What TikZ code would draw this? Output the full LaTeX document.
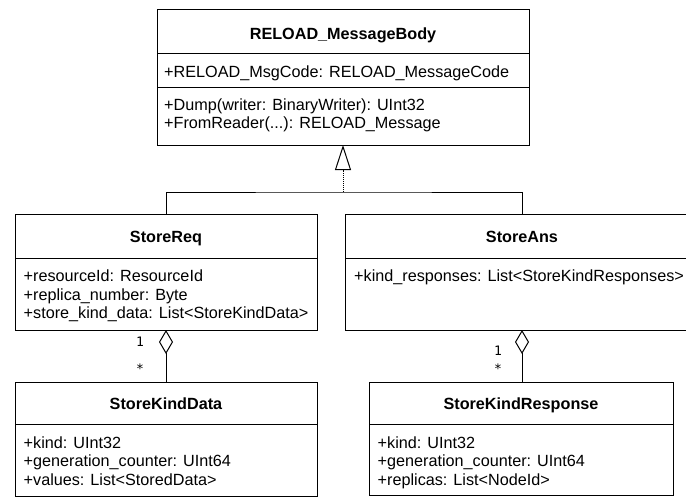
\documentclass[tikz,border=0pt]{standalone}
\usepackage{fontspec}
\setmainfont{Liberation Sans}
\newfontfamily\multfont{DejaVu Sans Mono}
\usetikzlibrary{arrows.meta}
\begin{document}
\begin{tikzpicture}[x=1pt,y=-1pt,
  umlbox/.style={draw=black, line width=1pt, inner sep=0pt, outer sep=0pt, anchor=north west, fill=white},
  sepline/.style={draw=black, line width=1pt},
  classname/.style={inner sep=0pt, anchor=base, font=\fontsize{16.2}{18.3}\selectfont\bfseries},
  member/.style={inner sep=0pt, anchor=base west, font=\fontsize{16.2}{18.3}\selectfont},
  mult/.style={inner sep=0pt, anchor=center, font=\fontsize{13}{14}\selectfont\multfont},
  link/.style={draw=black, line width=1pt}
]
\useasboundingbox (0,0) rectangle (686,496);
\clip (0,0) rectangle (686,496);

% RELOAD_MessageBody
\node[umlbox, minimum width=372pt, minimum height=136pt] (body) at (157,9) {};
\draw[sepline] (157,53) -- (529,53);
\draw[sepline] (157,87) -- (529,87);
\node[classname] (bodyname) at (343,39.3) {RELOAD\_MessageBody};
\node[member] (bodya1) at (164,77.7) {+RELOAD\_MsgCode: RELOAD\_MessageCode};
\node[member] (bodym1) at (164,110) {+Dump(writer: BinaryWriter): UInt32};
\node[member] (bodym2) at (164,128.3) {+FromReader(...): RELOAD\_Message};

% StoreReq
\node[umlbox, minimum width=302pt, minimum height=116pt] (req) at (15,214) {};
\draw[sepline] (15,258) -- (317,258);
\node[classname] (reqname) at (166,242.5) {StoreReq};
\node[member] (reqa1) at (23.5,281.7) {+resourceId: ResourceId};
\node[member] (reqa2) at (23.5,300) {+replica\_number: Byte};
\node[member] (reqa3) at (23.5,318.3) {+store\_kind\_data: List<StoreKindData>};

% StoreAns
\node[umlbox, minimum width=354pt, minimum height=116pt] (ans) at (345,214) {};
\draw[sepline] (345,258) -- (699,258);
\node[classname] (ansname) at (522,242.5) {StoreAns};
\node[member] (ansa1) at (354,281.7) {+kind\_responses: List<StoreKindResponses>};

% StoreKindData
\node[umlbox, minimum width=302pt, minimum height=114pt] (skd) at (15,382) {};
\draw[sepline] (15,424) -- (317,424);
\node[classname] (skdname) at (166,409.5) {StoreKindData};
\node[member] (skda1) at (23.5,448.3) {+kind: UInt32};
\node[member] (skda2) at (23.5,466.7) {+generation\_counter: UInt64};
\node[member] (skda3) at (23.5,485) {+values: List<StoredData>};

% StoreKindResponse
\node[umlbox, minimum width=304pt, minimum height=113.5pt] (skr) at (369,382) {};
\draw[sepline] (369,424) -- (673,424);
\node[classname] (skrname) at (521,409.5) {StoreKindResponse};
\node[member] (skra1) at (377.5,448.3) {+kind: UInt32};
\node[member] (skra2) at (377.5,466.7) {+generation\_counter: UInt64};
\node[member] (skra3) at (377.5,485) {+replicas: List<NodeId>};

% generalization: both messages derive from RELOAD_MessageBody
\coordinate (join) at (343,192);
\draw[link] (req.north) |- (join) -| (ans.north);
\draw[link, dash pattern=on 1pt off 1pt,
  -{Triangle[open, length=25pt, width=16pt, line width=1pt, sep=0pt]}]
  (join) -- (join |- body.south);

% aggregations
\draw[link, -{Diamond[open, length=24pt, width=14pt, line width=1pt]}]
  (skd.north) -- (skd.north |- req.south);
\draw[link, -{Diamond[open, length=24pt, width=14pt, line width=1pt]}]
  (ans.south |- skr.north) -- (ans.south);

% multiplicities
\node[mult] (m1) at (140,341.5) {1};
\node[mult] (m2) at (140,368.5) {*};
\node[mult] (m3) at (498,351) {1};
\node[mult] (m4) at (498,368.5) {*};
\end{tikzpicture}
\end{document}
